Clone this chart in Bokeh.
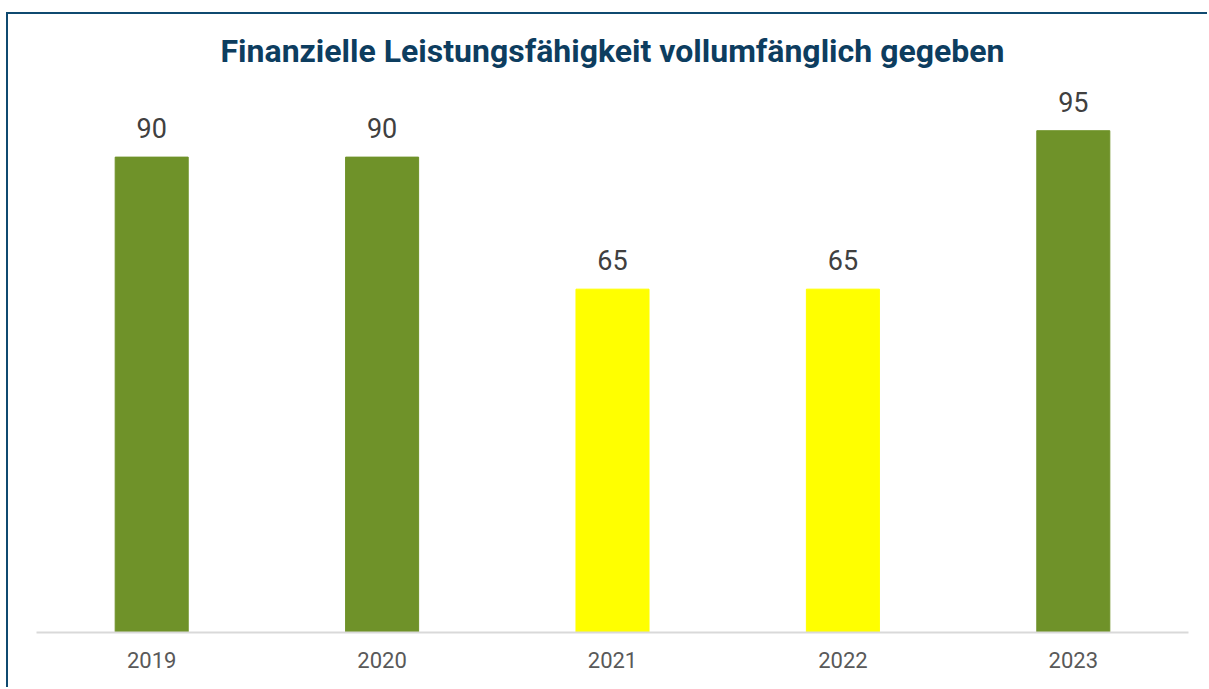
from bokeh.plotting import figure
from bokeh.models import ColumnDataSource, LabelSet, Label, Range1d, FactorRange
from bokeh.core.properties import value
from bokeh.embed import file_html
from bokeh.resources import INLINE

title_text = "Finanzielle Leistungsfähigkeit vollumfänglich gegeben"
years = ["2019", "2020", "2021", "2022", "2023"]
values = [90, 90, 65, 65, 95]
colors = ["#6f9229", "#6f9229", "#ffff00", "#ffff00", "#6f9229"]
labels = [str(v) for v in values]

src = ColumnDataSource(dict(x=years, top=values, color=colors, label=labels))

p = figure(
    x_range=FactorRange(*years, range_padding=0),
    y_range=Range1d(0, 117),
    width=1201, height=675,
    output_backend="svg", toolbar_location=None,
    min_border_left=28, min_border_right=21, min_border_top=0, min_border_bottom=57,
)
p.styles = {"border-top": "2px solid #0f4a70", "border-left": "2px solid #0f4a70",
            "margin-top": "12px", "margin-left": "6px"}

p.vbar(x="x", top="top", width=0.317, color="color", source=src)

p.add_layout(LabelSet(x="x", y="top", text="label", source=src, text_align="center",
                      text_baseline="alphabetic", y_offset=19, text_font=value("Roboto"),
                      text_font_size="27px", text_color="#404040"))

p.add_layout(Label(x=2.5, y=110.0, text=title_text, text_align="center",
                   text_baseline="alphabetic", text_font="Roboto",
                   text_font_size="32px", text_font_style="bold", text_color="#0d3d5f"))

p.xgrid.visible = False
p.ygrid.visible = False
p.yaxis.visible = False
p.outline_line_color = None
p.xaxis.axis_line_color = "#d9d9d9"
p.xaxis.axis_line_width = 2
p.xaxis.major_tick_line_color = None
p.xaxis.minor_tick_line_color = None
p.xaxis.major_label_text_font = "Roboto"
p.xaxis.major_label_text_font_size = "22px"
p.xaxis.major_label_text_color = "#595959"
p.xaxis.major_label_standoff = 13

open("out.html", "w").write(file_html(p, INLINE))
